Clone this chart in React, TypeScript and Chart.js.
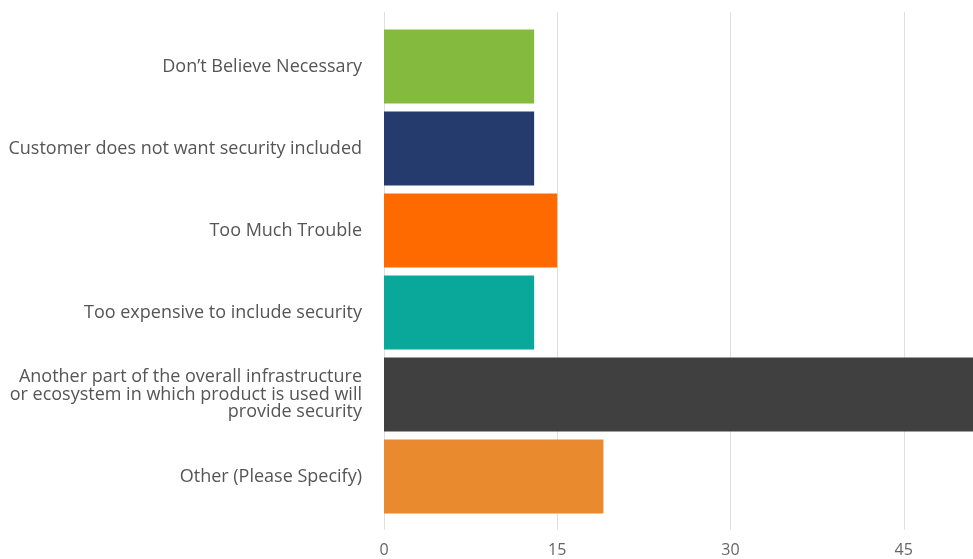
import React, { useEffect, useRef } from "react";
import { Chart, registerables } from "chart.js";

Chart.register(...registerables);

const categories: (string | string[])[] = [
  "Don\u2019t Believe Necessary",
  "Customer does not want security included",
  "Too Much Trouble",
  "Too expensive to include security",
  ["Another part of the overall infrastructure", "or ecosystem in which product is used will", "provide security"],
  "Other (Please Specify)",
];
const values = [13, 13, 15, 13, 51, 19];
const barColors = ["#84bb3f", "#253a6d", "#ff6a00", "#0aa89b", "#404040", "#e98a2f"];
const xTicks = [0, 15, 30, 45];

const gridPlugin = {
  id: "extGrid",
  beforeDatasetsDraw(chart: any) {
    const ctx = chart.ctx;
    const xs = chart.scales.x;
    ctx.save();
    ctx.strokeStyle = "#e0e0e0";
    ctx.lineWidth = 1;
    xTicks.forEach((v) => {
      const px = Math.round(xs.getPixelForValue(v)) + 0.5;
      ctx.beginPath();
      ctx.moveTo(px, 12);
      ctx.lineTo(px, 530);
      ctx.stroke();
    });
    ctx.restore();
  },
};

export default function App() {
  const ref = useRef<HTMLCanvasElement | null>(null);
  useEffect(() => {
    document.body.style.margin = "0";
    const chart = new Chart(ref.current!, {
      type: "bar",
      data: {
        labels: categories as any,
        datasets: [
          {
            data: values,
            backgroundColor: barColors,
            borderWidth: 0,
            categoryPercentage: 1,
            barPercentage: 0.9,
          },
        ],
      },
      options: {
        indexAxis: "y",
        animation: false,
        responsive: false,
        maintainAspectRatio: false,
        layout: { padding: { top: 25.5, right: 0, left: 0, bottom: 0 } },
        plugins: { legend: { display: false }, tooltip: { enabled: false } },
        scales: {
          x: {
            min: 0,
            max: 51,
            afterBuildTicks: (scale: any) => {
              scale.ticks = xTicks.map((v) => ({ value: v }));
            },
            afterFit: (scale: any) => {
              scale.height = 41.5;
              scale.paddingLeft = 0;
              scale.paddingRight = 0;
            },
            grid: { display: false, drawTicks: false },
            border: { display: false },
            ticks: {
              padding: 23,
              color: "#666",
              font: { family: "'Open Sans'", size: 16 },
              maxRotation: 0,
            },
          },
          y: {
            afterFit: (scale: any) => {
              scale.width = 384;
              scale.paddingTop = 0;
              scale.paddingBottom = 0;
            },
            grid: { display: false, drawTicks: false },
            border: { display: false },
            ticks: {
              padding: 22,
              color: "#555",
              font: { family: "'Open Sans'", size: 18, lineHeight: 0.97 },
              autoSkip: false,
            },
          },
        },
      },
      plugins: [gridPlugin],
    });
    return () => chart.destroy();
  }, []);
  return (
    <div style={{ position: "absolute", left: 0, top: 0, width: 973, height: 559 }}>
      <canvas ref={ref} width={973} height={559} style={{ width: 973, height: 559 }} />
    </div>
  );
}
